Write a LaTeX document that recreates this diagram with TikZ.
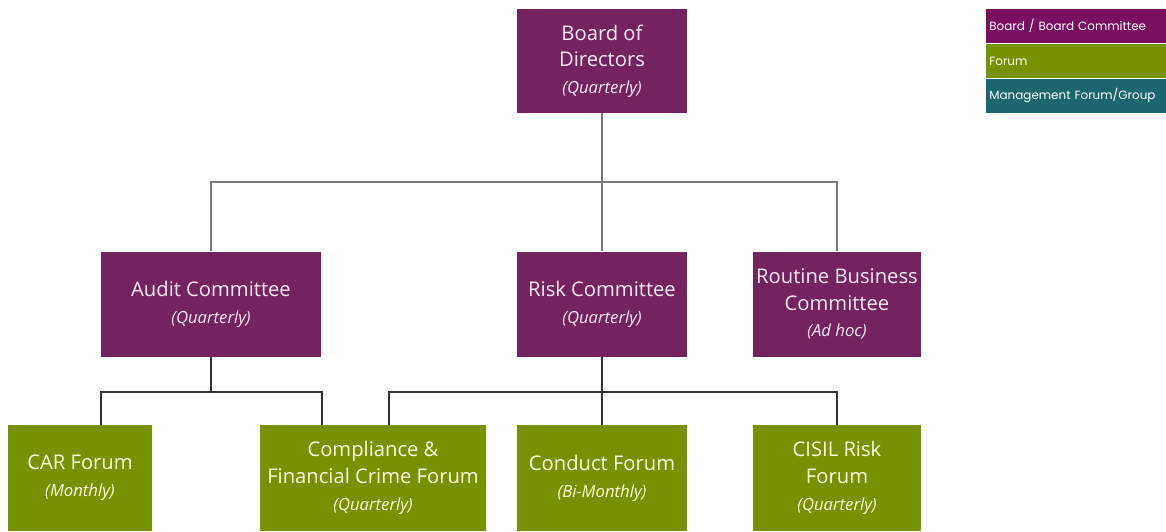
\documentclass[tikz,border=0pt]{standalone}
\usepackage{fontspec}
\setmainfont{Open Sans}
\newfontfamily\legendfont{Poppins}
\usetikzlibrary{positioning}
\definecolor{boardpurple}{HTML}{74235F}
\definecolor{forumgreen}{HTML}{769200}
\definecolor{keypurple}{HTML}{7A0F62}
\definecolor{keyteal}{HTML}{1C6670}
\definecolor{linkgrey}{HTML}{7A7A7A}
\definecolor{linkdark}{HTML}{333333}
\newcommand{\freq}[1]{{\fontsize{9.5}{12.5}\itshape #1}}

\begin{document}
\begin{tikzpicture}[x=0.02cm,y=-0.02cm,
    unit/.style={rectangle,inner sep=0pt,align=center,
        font=\fontsize{11.5}{15.2}\selectfont},
    board/.style={unit,fill=boardpurple,text=white!92!magenta},
    forum/.style={unit,fill=forumgreen,text=white!90!yellow},
    keyrow/.style={rectangle,inner sep=0pt,minimum width=180*0.02cm,
        minimum height=34*0.02cm,anchor=north west,text=white,
        font=\legendfont\fontsize{6.8}{8}\selectfont,
        text width=174*0.02cm,align=left},
    toplink/.style={draw=linkgrey,line width=0.6pt},
    lowlink/.style={draw=linkdark,line width=0.9pt}]
\useasboundingbox (0,0) rectangle (1166,531);
% === BOARD level ===
\node[board,minimum width=170*0.02cm,minimum height=104*0.02cm] (bod) at (602,61)
    {Board of\\Directors\\\freq{(Quarterly)}};
% === COMMITTEES ===
\node[board,minimum width=220*0.02cm,minimum height=105*0.02cm] (audit) at (211,304)
    {Audit Committee\\\freq{(Quarterly)}};
\node[board,minimum width=170*0.02cm,minimum height=105*0.02cm] (risk) at (602,304)
    {Risk Committee\\\freq{(Quarterly)}};
\node[board,minimum width=168*0.02cm,minimum height=105*0.02cm] (routine) at (837,304)
    {Routine Business\\Committee\\\freq{(Ad hoc)}};
% === FORUMS ===
\node[forum,minimum width=144*0.02cm,minimum height=106*0.02cm] (car) at (80,478)
    {CAR Forum\\\freq{(Monthly)}};
\node[forum,minimum width=226*0.02cm,minimum height=106*0.02cm] (comp) at (373,478)
    {Compliance \&\\Financial Crime Forum\\\freq{(Quarterly)}};
\node[forum,minimum width=170*0.02cm,minimum height=106*0.02cm] (conduct) at (602,478)
    {Conduct Forum\\\freq{(Bi-Monthly)}};
\node[forum,minimum width=168*0.02cm,minimum height=106*0.02cm] (cisil) at (837,478)
    {CISIL Risk\\Forum\\\freq{(Quarterly)}};
% === LINKS ===
\coordinate (bodjoin) at (602,182);
\coordinate (riskjoin) at (602,392);
\coordinate (auditjoin) at (audit.south |- riskjoin);
\coordinate (carin) at (101,425);
\coordinate (compleft) at (322,425);
\coordinate (compright) at (389,425);
\draw[toplink] (bod.south) -- (risk.north);
\draw[toplink] (audit.north) |- (bodjoin) -| (routine.north);
\draw[lowlink] (audit.south) -- (auditjoin);
\draw[lowlink] (carin) |- (auditjoin) -| (compleft);
\draw[lowlink] (risk.south) -- (conduct.north);
\draw[lowlink] (compright) |- (riskjoin) -| (cisil.north);
% === KEY ===
\node[keyrow,fill=keypurple] (keyboard) at (986,9) {Board / Board Committee};
\node[keyrow,fill=forumgreen,below=0pt of keyboard.south west,anchor=north west] (keyforum) {Forum};
\node[keyrow,fill=keyteal,below=0pt of keyforum.south west,anchor=north west] (keymgmt) {Management Forum/Group};
\end{tikzpicture}
\end{document}
